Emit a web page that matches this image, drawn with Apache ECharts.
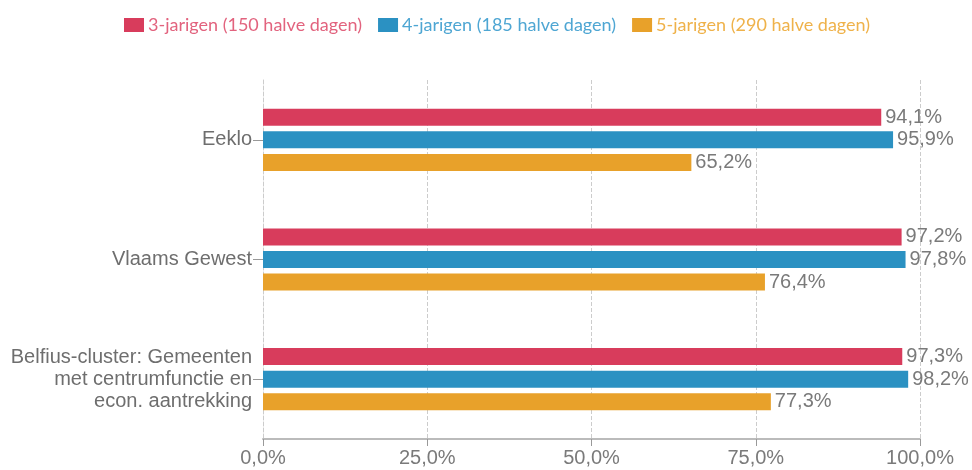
<!DOCTYPE html>
<html>
<head>
<meta charset="utf-8">
<script src="https://cdn.jsdelivr.net/npm/echarts@6/dist/echarts.min.js"></script>
<style>
  html, body { margin: 0; padding: 0; background: #fff; }
  #chart { width: 972px; height: 470px; }
</style>
</head>
<body>
<div id="chart"></div>
<script>
// regio's (van boven naar onder)
const categories = [
  'Eeklo',
  'Vlaams Gewest',
  'Belfius-cluster: Gemeenten\nmet centrumfunctie en\necon. aantrekking'
]
const seriesNames = ['3-jarigen (150 halve dagen)', '4-jarigen (185 halve dagen)', '5-jarigen (290 halve dagen)']
const jarigen3 = [94.1, 97.2, 97.3]
const jarigen4 = [95.9, 97.8, 98.2]
const jarigen5 = [65.2, 76.4, 77.3]
const xTicks = [0, 25, 50, 75, 100]

const colors = ['#d83c5c', '#2b91c2', '#e8a12a']
// legendetekst is iets lichter dan de blokjes
const legendTextColors = ['#e2637e', '#4ea6d3', '#efb24a']
const fmt = v => v.toFixed(1).replace('.', ',') + '%'

const chart = echarts.init(document.getElementById('chart'))

const mkSeries = (name, data, i) => ({
  name: name,
  type: 'bar',
  data: data,
  barWidth: 17,
  barGap: '33%',
  itemStyle: { color: colors[i] },
  label: {
    show: true,
    position: 'right',
    distance: 4,
    color: '#7a7a7a',
    fontSize: 20,
    fontFamily: 'Liberation Sans',
    formatter: p => fmt(p.value)
  }
})

chart.setOption({
  animation: false,
  textStyle: { fontFamily: 'Liberation Sans' },
  legend: {
    top: 11,
    left: 119,
    itemWidth: 20,
    itemHeight: 14,
    itemGap: 16,
    icon: 'rect',
    data: seriesNames.map((n, i) => ({
      name: n,
      textStyle: { color: legendTextColors[i] }
    })),
    textStyle: { fontSize: 18, fontFamily: 'Lato', padding: [0, 0, 0, -1] }
  },
  grid: { left: 263, right: 52, top: 80, bottom: 31, containLabel: false },
  xAxis: {
    type: 'value',
    min: 0,
    max: 100,
    interval: 25,
    axisLine: { show: true, lineStyle: { color: '#bbb', width: 2 } },
    axisTick: { show: true, length: 7, lineStyle: { color: '#999' } },
    splitLine: { show: true, lineStyle: { type: 'dashed', color: '#ccc' } },
    axisLabel: {
      color: '#7a7a7a',
      fontSize: 20,
      margin: 9,
      formatter: v => xTicks.includes(v) ? fmt(v) : ''
    }
  },
  yAxis: {
    type: 'category',
    data: categories,
    inverse: true,
    axisLine: { show: true, lineStyle: { type: 'dashed', color: '#ccc' } },
    axisTick: { show: true, length: 10, alignWithLabel: true, lineStyle: { color: '#999' } },
    axisLabel: {
      color: '#6e6e6e',
      fontSize: 20,
      margin: 11,
      lineHeight: 22,
      align: 'right'
    }
  },
  series: [
    mkSeries(seriesNames[0], jarigen3, 0),
    mkSeries(seriesNames[1], jarigen4, 1),
    mkSeries(seriesNames[2], jarigen5, 2)
  ]
})
</script>
</body>
</html>
